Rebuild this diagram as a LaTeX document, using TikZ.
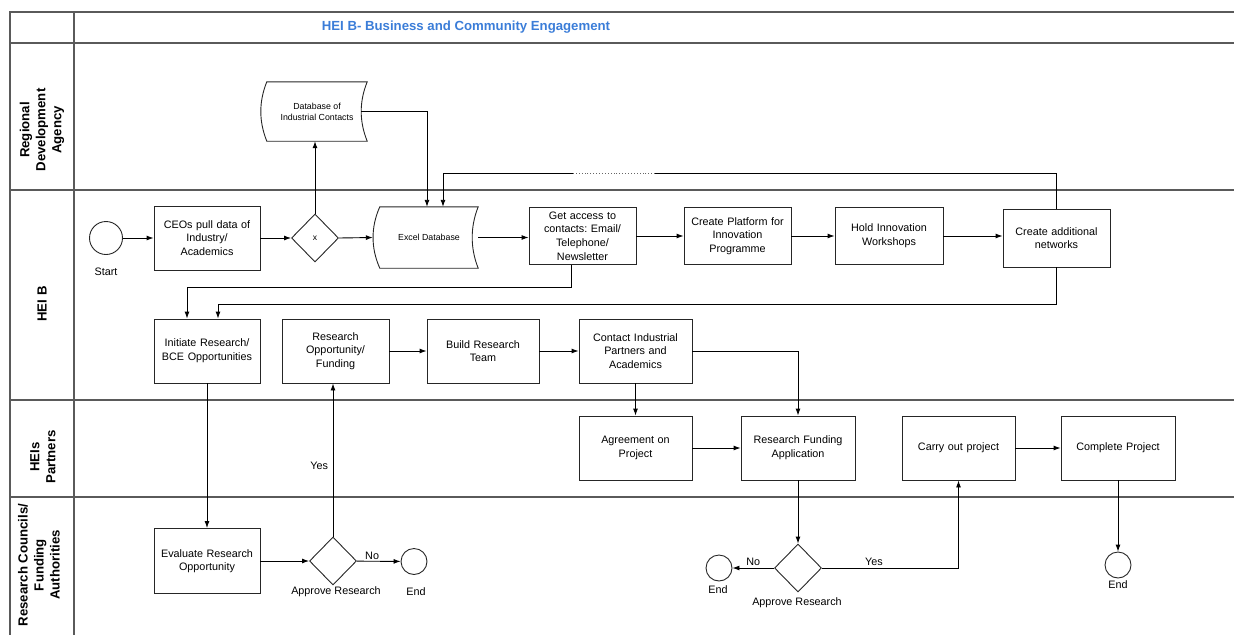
\documentclass[tikz,border=0pt]{standalone}
\usepackage{fontspec}
\setmainfont{Liberation Sans}
\usetikzlibrary{shapes.geometric,arrows.meta}
\definecolor{titleblue}{RGB}{59,125,216}
\definecolor{framegray}{RGB}{90,90,90}
\frenchspacing
\begin{document}
\begin{tikzpicture}[x=1pt,y=-1pt,
  frameline/.style={draw=framegray,line width=1.4pt},
  box/.style={draw=black!85,line width=0.9pt,inner sep=0pt,align=center,text width=100pt,
    font=\fontsize{10.8}{13.6}\selectfont},
  sdata/.style={inner sep=0pt,align=center,font=\fontsize{8.8}{11}\selectfont},
  sdline/.style={draw=black!85,line width=0.9pt},
  gate/.style={draw=black!85,line width=0.9pt,diamond,inner sep=0pt,minimum width=47pt,minimum height=48pt,
    font=\fontsize{8.5}{10}\selectfont},
  evt/.style={draw=black!85,line width=0.9pt,circle,inner sep=0pt},
  lbl/.style={inner sep=1.5pt,font=\fontsize{10.8}{13}\selectfont},
  lane/.style={rotate=90,align=center,font=\bfseries\fontsize{13.2}{16}\selectfont},
  conn/.style={draw=black,line width=0.9pt},
  arr/.style={conn,-{Latex[length=7pt,width=5pt]}}]
\useasboundingbox (0,0) rectangle (1234,635);
% frame
\draw[frameline] (1234,12) -- (10,12) -- (10,635);
\draw[frameline] (74,12) -- (74,635);
\draw[frameline] (10,43) -- (1234,43);
\draw[frameline] (10,190) -- (1234,190);
\draw[frameline] (10,400) -- (1234,400);
\draw[frameline] (10,497) -- (1234,497);
% title and lanes
\node[font=\bfseries\fontsize{13.2}{15}\selectfont,text=titleblue] (title) at (466,27) {HEI B- Business and Community Engagement};
\node[lane] (laneA) at (42,130) {Regional\\Development\\Agency};
\node[lane] (laneB) at (42,304) {HEI B};
\node[lane] (laneC) at (43,457) {HEIs\\Partners};
\node[lane] (laneD) at (39,565) {Research Councils/\\Funding\\Authorities};
% row 1
\node[evt,minimum size=33pt] (start) at (106,238) {};
\node[lbl] (startlbl) at (106,272) {Start};
\node[box,minimum width=106pt,minimum height=64pt] (ceo) at (207,238) {CEOs pull data of\\Industry/\\Academics};
\node[gate] (dx) at (315,238) {x};
\node[sdata,minimum width=98pt,minimum height=61pt] (excel) at (429,237.5) {Excel Database};
\draw[sdline] (excel.north west) -- (excel.north east) .. controls +(-8,20) and +(-8,-20) .. (excel.south east)
  -- (excel.south west) .. controls +(-9,-20) and +(-9,20) .. (excel.north west) -- cycle;
\node[box,minimum width=107pt,minimum height=57pt] (getacc) at (582.5,236) {Get access to\\contacts: Email/\\Telephone/\\Newsletter};
\node[box,minimum width=107pt,minimum height=57pt] (platform) at (737.5,236) {Create Platform for\\Innovation\\Programme};
\node[box,minimum width=108pt,minimum height=57pt] (hold) at (889,236) {Hold Innovation\\Workshops};
\node[box,minimum width=107pt,minimum height=58pt] (networks) at (1056.5,238) {Create additional\\networks};
% database in RDA lane
\node[sdata,minimum width=100pt,minimum height=59pt] (db) at (317,111.5) {Database of\\Industrial Contacts};
\draw[sdline] (db.north west) -- (db.north east) .. controls +(-8,20) and +(-8,-20) .. (db.south east)
  -- (db.south west) .. controls +(-8,-20) and +(-8,20) .. (db.north west) -- cycle;
% row 2
\node[box,minimum width=106pt,minimum height=64pt] (initiate) at (207,351) {Initiate Research/\\BCE Opportunities};
\node[box,minimum width=107pt,minimum height=64pt] (resopp) at (335.5,351) {Research\\Opportunity/\\Funding};
\node[box,minimum width=112pt,minimum height=64pt] (build) at (483,351) {Build Research\\Team};
\node[box,minimum width=113pt,minimum height=64pt] (contact) at (635.5,351) {Contact Industrial\\Partners and\\Academics};
% row 3
\node[box,minimum width=113pt,minimum height=64pt] (agree) at (635.5,448) {Agreement on\\Project};
\node[box,minimum width=114pt,minimum height=64pt] (rfa) at (798,448) {Research Funding\\Application};
\node[box,minimum width=113pt,minimum height=64pt] (carry) at (958.5,448) {Carry out project};
\node[box,minimum width=114pt,minimum height=64pt] (complete) at (1118,448) {Complete Project};
% row 4
\node[box,minimum width=106pt,minimum height=65pt] (evaluate) at (207,561) {Evaluate Research\\Opportunity};
\node[gate] (dap1) at (333,561) {};
\node[lbl] (dap1lbl) at (336,592) {Approve Research};
\node[evt,minimum size=26pt] (end1) at (414,561.5) {};
\node[lbl] (end1lbl) at (416,592) {End};
\node[gate] (dap2) at (798,568) {};
\node[lbl] (dap2lbl) at (797,603) {Approve Research};
\node[evt,minimum size=26pt] (end2) at (719,568) {};
\node[lbl] (end2lbl) at (718,590) {End};
\node[evt,minimum size=26pt] (end3) at (1118,565) {};
\node[lbl] (end3lbl) at (1118,585) {End};
% connectors row 1
\draw[arr] (start) -- (ceo);
\draw[arr] (ceo) -- (dx);
\draw[arr] (dx.east) -- ([xshift=-7pt]excel.west);
\draw[arr] (excel.east) -- (getacc.west |- excel.east);
\draw[arr] (getacc) -- (platform);
\draw[arr] (platform) -- (hold);
\draw[arr] (hold.east) -- (networks.west |- hold.east);
\draw[arr] (dx.north) -- (dx.north |- db.south);
\draw[arr] ([xshift=-6pt]db.east) -| ([xshift=-2pt]excel.north);
\coordinate (loopA) at (655,173);
\coordinate (loopB) at (573,173);
\draw[conn] (networks.north) |- (loopA);
\draw[conn,dotted,line width=0.7pt,draw=black!60] (loopA) -- (loopB);
\draw[arr] (loopB) -| ([xshift=14pt]excel.north);
\draw[arr] ([xshift=-11.5pt]getacc.south) -- ++(0,22) -| ([xshift=-20pt]initiate.north);
\draw[arr] (networks.south) -- ++(0,37) -| ([xshift=11pt]initiate.north);
% connectors row 2
\draw[arr] (resopp) -- (build);
\draw[arr] (build) -- (contact);
\draw[arr] (contact.east) -| (rfa.north);
\draw[arr] (contact.south) -- (agree.north);
\draw[arr] (initiate.south) -- (evaluate.north);
% row 3/4
\draw[arr] (evaluate) -- (dap1);
\draw[arr] (dap1.north) -- (dap1.north |- resopp.south) node[lbl,pos=0.46,left=3pt] {Yes};
\draw[arr] (dap1) -- (end1) node[lbl,pos=0.35,above] {No};
\draw[arr] (agree) -- (rfa);
\draw[arr] (carry) -- (complete);
\draw[arr] (rfa.south) -- (dap2.north);
\draw[arr] (dap2) -- (end2) node[lbl,midway,above] {No};
\draw[arr] (dap2.east) -| (carry.south) node[lbl,pos=0.19,above] {Yes};
\draw[arr] (complete.south) -- (end3.north);
\end{tikzpicture}
\end{document}
